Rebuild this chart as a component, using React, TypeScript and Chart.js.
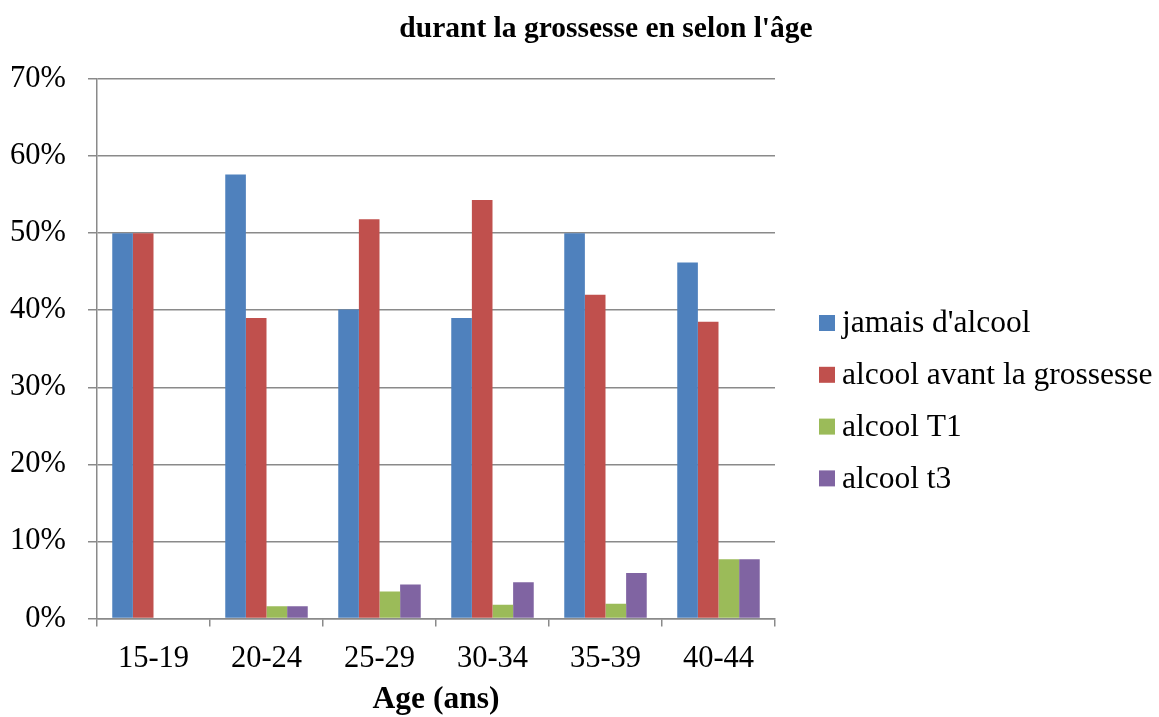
import React, { useEffect, useRef } from "react";
import { Chart, registerables } from "chart.js";

Chart.register(...registerables);

// Tranches d'âge et pourcentages par groupe de consommation
const ageGroups = ["15-19", "20-24", "25-29", "30-34", "35-39", "40-44"];
const jamaisAlcool = [50.0, 57.6, 40.1, 39.0, 50.0, 46.2];
const alcoolAvant = [50.0, 39.0, 51.8, 54.3, 42.0, 38.5];
const alcoolT1 = [0, 1.6, 3.5, 1.8, 1.9, 7.7];
const alcoolT3 = [0, 1.6, 4.4, 4.7, 5.9, 7.7];
const seriesLabels = ["jamais d'alcool", "alcool avant la grossesse", "alcool T1", "alcool t3"];
const seriesColors = ["#4F81BD", "#C0504D", "#9BBB59", "#8064A2"];
const chartTitle = "durant la grossesse en selon l'âge";
const axisTitle = "Age (ans)";

const FONT = "'Liberation Serif', 'Times New Roman', serif";
const GRID = "#8a8a8a";

// Titre en haut et légende à droite, dessinés directement sur le canevas
const decorations = {
  id: "decorations",
  afterDraw(chart: Chart) {
    const { ctx, chartArea } = chart;
    ctx.save();
    ctx.fillStyle = "#000";
    ctx.font = `bold 29.5px ${FONT}`;
    ctx.textAlign = "center";
    ctx.textBaseline = "alphabetic";
    ctx.fillText(chartTitle, 606, 37);

    ctx.font = `31.5px ${FONT}`;
    ctx.textAlign = "left";
    ctx.textBaseline = "middle";
    const x0 = chartArea.right + 44;
    const y0 = 323;
    const step = 51.8;
    chart.data.datasets.forEach((ds, i) => {
      const y = y0 + i * step;
      ctx.fillStyle = ds.backgroundColor as string;
      ctx.fillRect(x0, y - 8, 16, 16);
      ctx.fillStyle = "#000";
      ctx.fillText(ds.label as string, x0 + 23, y + 1);
    });
    ctx.restore();
  },
};

export default function App() {
  const canvasRef = useRef<HTMLCanvasElement | null>(null);

  useEffect(() => {
    if (!canvasRef.current) return;
    const values = [jamaisAlcool, alcoolAvant, alcoolT1, alcoolT3];
    const chart = new Chart(canvasRef.current, {
      type: "bar",
      data: {
        labels: ageGroups,
        datasets: values.map((data, i) => ({
          label: seriesLabels[i],
          data,
          backgroundColor: seriesColors[i],
          borderWidth: 0,
          barPercentage: 1,
          categoryPercentage: 0.73,
        })),
      },
      options: {
        responsive: false,
        animation: false,
        layout: { padding: { left: 0, right: 384, top: 79, bottom: 0 } },
        plugins: {
          legend: { display: false },
          title: { display: false },
          tooltip: { enabled: false },
        },
        scales: {
          x: {
            afterFit: (scale: any) => {
              scale.height = 98.5;
            },
            grid: {
              display: true,
              drawOnChartArea: false,
              drawTicks: true,
              tickLength: 8,
              offset: true,
              color: GRID,
              lineWidth: 1.5,
            },
            border: { display: true, color: GRID, width: 1.5 },
            ticks: {
              color: "#000",
              font: { family: FONT, size: 30.5 },
              padding: 14,
              maxRotation: 0,
            },
            title: {
              display: true,
              text: axisTitle,
              color: "#000",
              font: { family: FONT, size: 31.5, weight: "bold" },
              padding: { top: 0, bottom: -2 },
            },
          },
          y: {
            min: 0,
            max: 70,
            afterFit: (scale: any) => {
              scale.width = 97;
            },
            grid: {
              color: GRID,
              lineWidth: 1.5,
              drawTicks: true,
              tickLength: 9,
            },
            border: { display: true, color: GRID, width: 1.5 },
            ticks: {
              stepSize: 10,
              color: "#000",
              font: { family: FONT, size: 30.5 },
              padding: 22,
              callback: (v: any) => `${v}%`,
            },
          },
        },
      },
      plugins: [decorations],
    });
    return () => chart.destroy();
  }, []);

  return (
    <div style={{ position: "absolute", left: 0, top: 0, width: 1159, height: 717, background: "#fff" }}>
      <canvas ref={canvasRef} width={1159} height={717} style={{ display: "block" }} />
    </div>
  );
}
